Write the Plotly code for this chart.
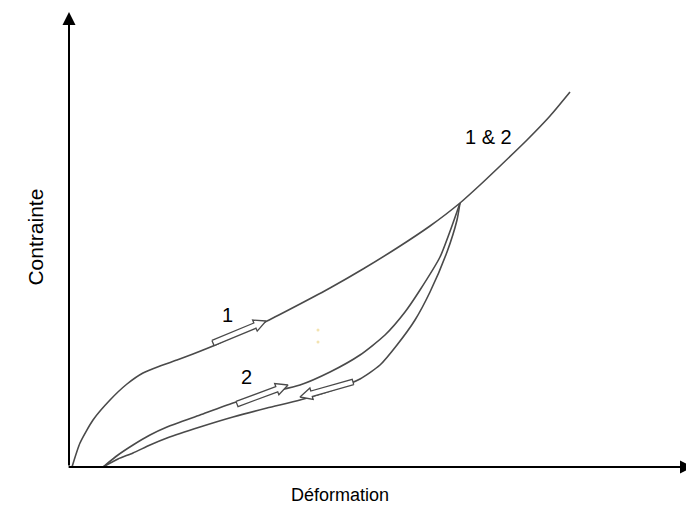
import math
import plotly.graph_objects as go

# Schematic stress-strain curves (units: arbitrary)
load1_strain = [3, 11, 24, 41, 58, 74, 91, 108, 124, 144, 161, 198, 231, 261, 294, 328, 361, 391, 411, 429, 458, 481, 501]
load1_stress = [0, 24, 47, 67, 83, 94, 101, 107, 113, 121, 129, 146, 163, 179, 198, 219, 241, 264, 282, 299, 327, 351, 375]

load2_strain = [34, 49, 64, 81, 98, 131, 164, 198, 231, 261, 291, 316, 336, 351, 371, 384, 391]
load2_stress = [0, 12, 22, 32, 40, 52, 64, 74, 82, 95, 112, 132, 155, 177, 210, 244, 264]

unload_strain = [34, 49, 64, 81, 98, 131, 164, 198, 231, 264, 291, 311, 328, 346, 361, 378, 388, 391]
unload_stress = [0, 8, 14, 22, 29, 40, 50, 59, 67, 77, 88, 102, 122, 147, 175, 215, 247, 264]

curve_labels = ["1", "2", "1 & 2"]
x_title = "Déformation"
y_title = "Contrainte"

LINE = "#4a4a4a"
FONT = "Arial, Liberation Sans, sans-serif"

fig = go.Figure()
for xs, ys in [(load1_strain, load1_stress), (load2_strain, load2_stress), (unload_strain, unload_stress)]:
    fig.add_trace(go.Scatter(x=xs, y=ys, mode="lines",
                             line=dict(color=LINE, width=1.6, shape="spline", smoothing=0.6),
                             hoverinfo="skip", showlegend=False))

# hollow direction arrows along the curves
def arrow_poly(tail, tip, shaft=2.8, head=6.0, head_len=12.0):
    dx, dy = tip[0] - tail[0], tip[1] - tail[1]
    L = math.hypot(dx, dy)
    ux, uy = dx / L, dy / L
    nx, ny = -uy, ux
    bx, by = tip[0] - ux * head_len, tip[1] - uy * head_len
    pts = [
        (tail[0] + nx * shaft, tail[1] + ny * shaft),
        (bx + nx * shaft, by + ny * shaft),
        (bx + nx * head, by + ny * head),
        tip,
        (bx - nx * head, by - ny * head),
        (bx - nx * shaft, by - ny * shaft),
        (tail[0] - nx * shaft, tail[1] - ny * shaft),
        (tail[0] + nx * shaft, tail[1] + ny * shaft),
    ]
    return [p[0] for p in pts], [p[1] for p in pts]

for tail, tip in [((144, 124), (197, 146)), ((168, 63), (219, 82)), ((284, 85), (231, 70))]:
    ax_, ay_ = arrow_poly(tail, tip)
    fig.add_trace(go.Scatter(x=ax_, y=ay_, mode="lines", fill="toself", fillcolor="white",
                             line=dict(color=LINE, width=1.3), hoverinfo="skip", showlegend=False))

# faint specks
fig.add_trace(go.Scatter(x=[249, 249], y=[137, 125], mode="markers",
                         marker=dict(color="#f3e3b0", size=3), hoverinfo="skip", showlegend=False))

anns = []
# axes with arrow heads
anns.append(dict(x=0, y=455, ax=0, ay=0, xref="x", yref="y", axref="x", ayref="y", text="",
                 showarrow=True, arrowhead=2, arrowsize=1.3, arrowwidth=2, arrowcolor="black"))
anns.append(dict(x=1.013, y=0, xref="paper", yref="paper", ax=-635, ay=0, text="",
                 showarrow=True, arrowhead=2, arrowsize=1.3, arrowwidth=2, arrowcolor="black"))
for txt, (x, y) in zip(curve_labels, [(158, 152), (177, 90), (419, 330)]):
    anns.append(dict(x=x, y=y, xref="x", yref="y", text=txt, showarrow=False,
                     font=dict(family=FONT, size=20, color="black")))
anns.append(dict(x=0.4336, y=-0.0871, xref="paper", yref="paper", text=x_title, showarrow=False,
                 font=dict(family=FONT, size=18, color="black")))
anns.append(dict(x=-0.0752, y=0.501, xref="paper", yref="paper", text=y_title, showarrow=False,
                 textangle=-90, font=dict(family=FONT, size=21, color="black")))

fig.update_layout(
    width=686, height=512,
    margin=dict(l=61, r=0, t=0, b=53, autoexpand=False),
    paper_bgcolor="white", plot_bgcolor="white",
    annotations=anns,
    xaxis=dict(range=[0, 625], visible=False, fixedrange=True),
    yaxis=dict(range=[0, 459], visible=False, fixedrange=True),
)
fig.write_html("out.html")
